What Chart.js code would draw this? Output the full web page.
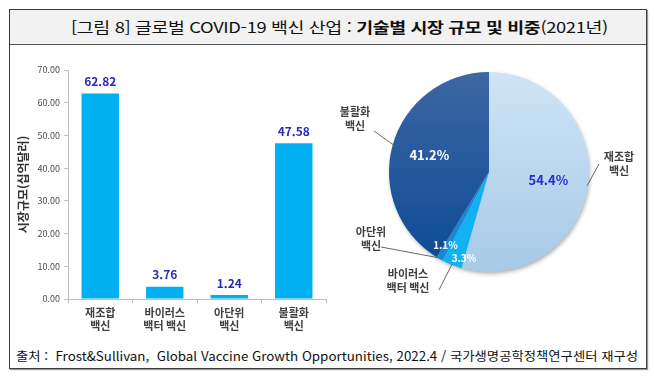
<!DOCTYPE html>
<html lang="ko">
<head>
<meta charset="utf-8">
<script src="https://cdn.jsdelivr.net/npm/chart.js@4"></script>
<style>
    html, body { margin: 0; padding: 0; background: #fff; }
    body { width: 654px; height: 380px; position: relative; overflow: hidden; font-family: "Noto Sans CJK KR", "Noto Sans", sans-serif; }
    .frame { position: absolute; left: 9px; top: 9px; width: 636px; height: 358px; border: 1px solid #3a3a3a; box-shadow: 1px 1px 1px #999; }
    .title-band { position: absolute; left: 0; top: 0; width: 636px; height: 34px; background: #f2f2f2; border-bottom: 1px solid #555; }
    .title { position: absolute; left: 61px; top: 6px; font-size: 15px; color: #111; white-space: nowrap; letter-spacing: -0.3px; transform-origin: left center; }
    .title b { font-weight: 700; }
    .source { position: absolute; left: 6px; top: 336px; font-size: 12.5px; color: #111; white-space: nowrap; transform-origin: left center; }
    #barWrap { position: absolute; left: 10px; top: 50px; width: 320px; height: 285px; }
    #pieWrap { position: absolute; left: 330px; top: 60px; width: 316px; height: 250px; }
</style>
</head>
<body>
<div class="frame">
    <div class="title-band"><div class="title" id="title">[그림 8] 글로벌 COVID-19 백신 산업 : <b>기술별 시장 규모 및 비중</b>(2021년)</div></div>
    <div class="source" id="source">출처 :&nbsp; Frost&amp;Sullivan,&nbsp; Global Vaccine Growth Opportunities, 2022.4 / 국가생명공학정책연구센터 재구성</div>
</div>
<div id="barWrap"><canvas id="barChart" width="320" height="285"></canvas></div>
<div id="pieWrap"><canvas id="pieChart" width="316" height="250"></canvas></div>

<script>
// data
const categories = [['재조합', '백신'], ['바이러스', '백터 백신'], ['아단위', '백신'], ['불활화', '백신']];
const marketSize = [62.82, 3.76, 1.24, 47.58];
const yTicks = [0, 10, 20, 30, 40, 50, 60, 70];
const yTitle = '시장규모(십억달러)';

// pie uses the same values, drawn clockwise from 12 o'clock
const pieOrder = [0, 1, 2, 3];

// squeeze header / footer text to the width of the original
function fitText(id, width) {
    const el = document.getElementById(id);
    const w = el.scrollWidth;
    el.style.transform = 'scaleX(' + (width / w) + ')';
}
fitText('title', 537);
fitText('source', 622);

Chart.defaults.font.family = '"Noto Sans CJK KR", "Noto Sans", sans-serif';
Chart.defaults.animation = false;

const barValueLabels = {
    id: 'barValueLabels',
    afterDatasetsDraw(chart) {
        const ctx = chart.ctx;
        const meta = chart.getDatasetMeta(0);
        ctx.save();
        ctx.font = 'bold 12px "Noto Sans CJK KR", sans-serif';
        ctx.fillStyle = '#2a2ab8';
        ctx.textAlign = 'center';
        ctx.textBaseline = 'middle';
        meta.data.forEach((bar, i) => {
            ctx.fillText(marketSize[i].toFixed(2), bar.x, bar.y - 12);
        });
        ctx.restore();
    }
};

new Chart(document.getElementById('barChart'), {
    type: 'bar',
    data: {
        labels: categories,
        datasets: [{
            data: marketSize,
            backgroundColor: '#00b0f0',
            borderWidth: 0,
            barPercentage: 0.58,
            categoryPercentage: 1
        }]
    },
    options: {
        responsive: false,
        layout: { padding: { left: 0, right: 4, top: 20, bottom: 0 } },
        plugins: { legend: { display: false }, tooltip: { enabled: false } },
        scales: {
            y: {
                min: 0,
                max: 70,
                afterBuildTicks: s => { s.ticks = yTicks.map(v => ({ value: v })); },
                afterFit: s => { s.width = 58; },
                ticks: {
                    callback: v => Number(v).toFixed(2),
                    font: { size: 9 },
                    color: '#4d4d4d',
                    padding: 4
                },
                grid: { drawOnChartArea: false, drawTicks: true, tickLength: 4, color: '#bfbfbf' },
                border: { color: '#bfbfbf' },
                title: {
                    display: true,
                    text: yTitle,
                    font: { size: 12, weight: 'bold' },
                    color: '#333333',
                    padding: { top: 6, bottom: 0 }
                }
            },
            x: {
                afterFit: s => { s.height = 36; },
                ticks: {
                    font: { size: 11, weight: 'bold' },
                    color: '#404040',
                    padding: 3,
                    maxRotation: 0,
                    autoSkip: false
                },
                grid: { drawOnChartArea: false, drawTicks: true, tickLength: 4, color: '#bfbfbf', offset: true },
                border: { color: '#bfbfbf' }
            }
        }
    },
    plugins: [barValueLabels]
});

// pie: percentages inside, category names outside with leader lines
const pieLabelPos = [
    { dx: 130, dy: -8 },   // 재조합
    { dx: -81, dy: 109 },  // 바이러스
    { dx: -118, dy: 67 },  // 아단위
    { dx: -134, dy: -53 }  // 불활화
];
const pieLineEnd = [
    { dx: 110, dy: -8 },
    { dx: -50, dy: 118 },
    { dx: -108, dy: 75 },
    { dx: -115, dy: -41 }
];
const pieInner = [
    { r: 0.6, turn: 0, color: '#2a2ad0', size: 13 },
    { r: 0.9, turn: -0.1, color: '#ffffff', size: 10 },
    { r: 0.85, turn: 0.02, color: '#ffffff', size: 10 },
    { r: 0.62, turn: 0, color: '#ffffff', size: 13 }
];

const pieLabels = {
    id: 'pieLabels',
    beforeDatasetsDraw(chart) {
        const arc = chart.getDatasetMeta(0).data[0];
        const ctx = chart.ctx;
        ctx.save();
        ctx.shadowColor = 'rgba(0,0,0,0.35)';
        ctx.shadowBlur = 4;
        ctx.shadowOffsetX = 1;
        ctx.shadowOffsetY = 2;
        ctx.beginPath();
        ctx.arc(arc.x, arc.y, arc.outerRadius - 0.5, 0, Math.PI * 2);
        ctx.fillStyle = '#a9cbe8';
        ctx.fill();
        ctx.restore();
    },
    afterDatasetsDraw(chart) {
        const ctx = chart.ctx;
        const meta = chart.getDatasetMeta(0);
        const total = marketSize.reduce((a, b) => a + b, 0);
        ctx.save();
        ctx.textAlign = 'center';
        ctx.textBaseline = 'middle';
        meta.data.forEach((a, i) => {
            const mid = (a.startAngle + a.endAngle) / 2;
            const R = a.outerRadius;
            const inner = pieInner[i];
            const pct = (marketSize[i] / total * 100).toFixed(1) + '%';
            const ta = mid + inner.turn;
            ctx.font = 'bold ' + inner.size + 'px "Noto Sans CJK KR", sans-serif';
            ctx.fillStyle = inner.color;
            ctx.fillText(pct, a.x + Math.cos(ta) * R * inner.r, a.y + Math.sin(ta) * R * inner.r);

            // leader line
            const sx = a.x + Math.cos(mid) * (R - 1);
            const sy = a.y + Math.sin(mid) * (R - 1);
            ctx.strokeStyle = '#666';
            ctx.lineWidth = 1;
            ctx.beginPath();
            ctx.moveTo(sx, sy);
            ctx.lineTo(a.x + pieLineEnd[i].dx, a.y + pieLineEnd[i].dy);
            ctx.stroke();

            // outer label
            const name = categories[i];
            ctx.font = 'bold 11px "Noto Sans CJK KR", sans-serif';
            ctx.fillStyle = '#404040';
            const lx = a.x + pieLabelPos[i].dx;
            const ly = a.y + pieLabelPos[i].dy;
            ctx.fillText(name[0], lx, ly - 7);
            ctx.fillText(name[1], lx, ly + 7);
        });
        ctx.restore();
    }
};

function grad(ctx, top, bottom) {
    const chart = ctx.chart;
    const area = chart.chartArea;
    if (!area) return bottom;
    const g = chart.ctx.createLinearGradient(0, area.top, 0, area.bottom);
    g.addColorStop(0, top);
    g.addColorStop(1, bottom);
    return g;
}

new Chart(document.getElementById('pieChart'), {
    type: 'pie',
    data: {
        labels: pieOrder.map(i => categories[i].join(' ')),
        datasets: [{
            data: pieOrder.map(i => marketSize[i]),
            backgroundColor: ctx => {
                const i = ctx.dataIndex;
                if (i === 0) return grad(ctx, '#cfe4f6', '#a7cae7');
                if (i === 1) return '#10b2f2';
                if (i === 2) return '#1a87d2';
                return grad(ctx, '#3d66a3', '#0b4a96');
            },
            borderWidth: 0
        }]
    },
    options: {
        responsive: false,
        layout: { padding: { left: 59, right: 57, top: 12, bottom: 38 } },
        plugins: { legend: { display: false }, tooltip: { enabled: false } }
    },
    plugins: [pieLabels]
});
</script>
</body>
</html>
